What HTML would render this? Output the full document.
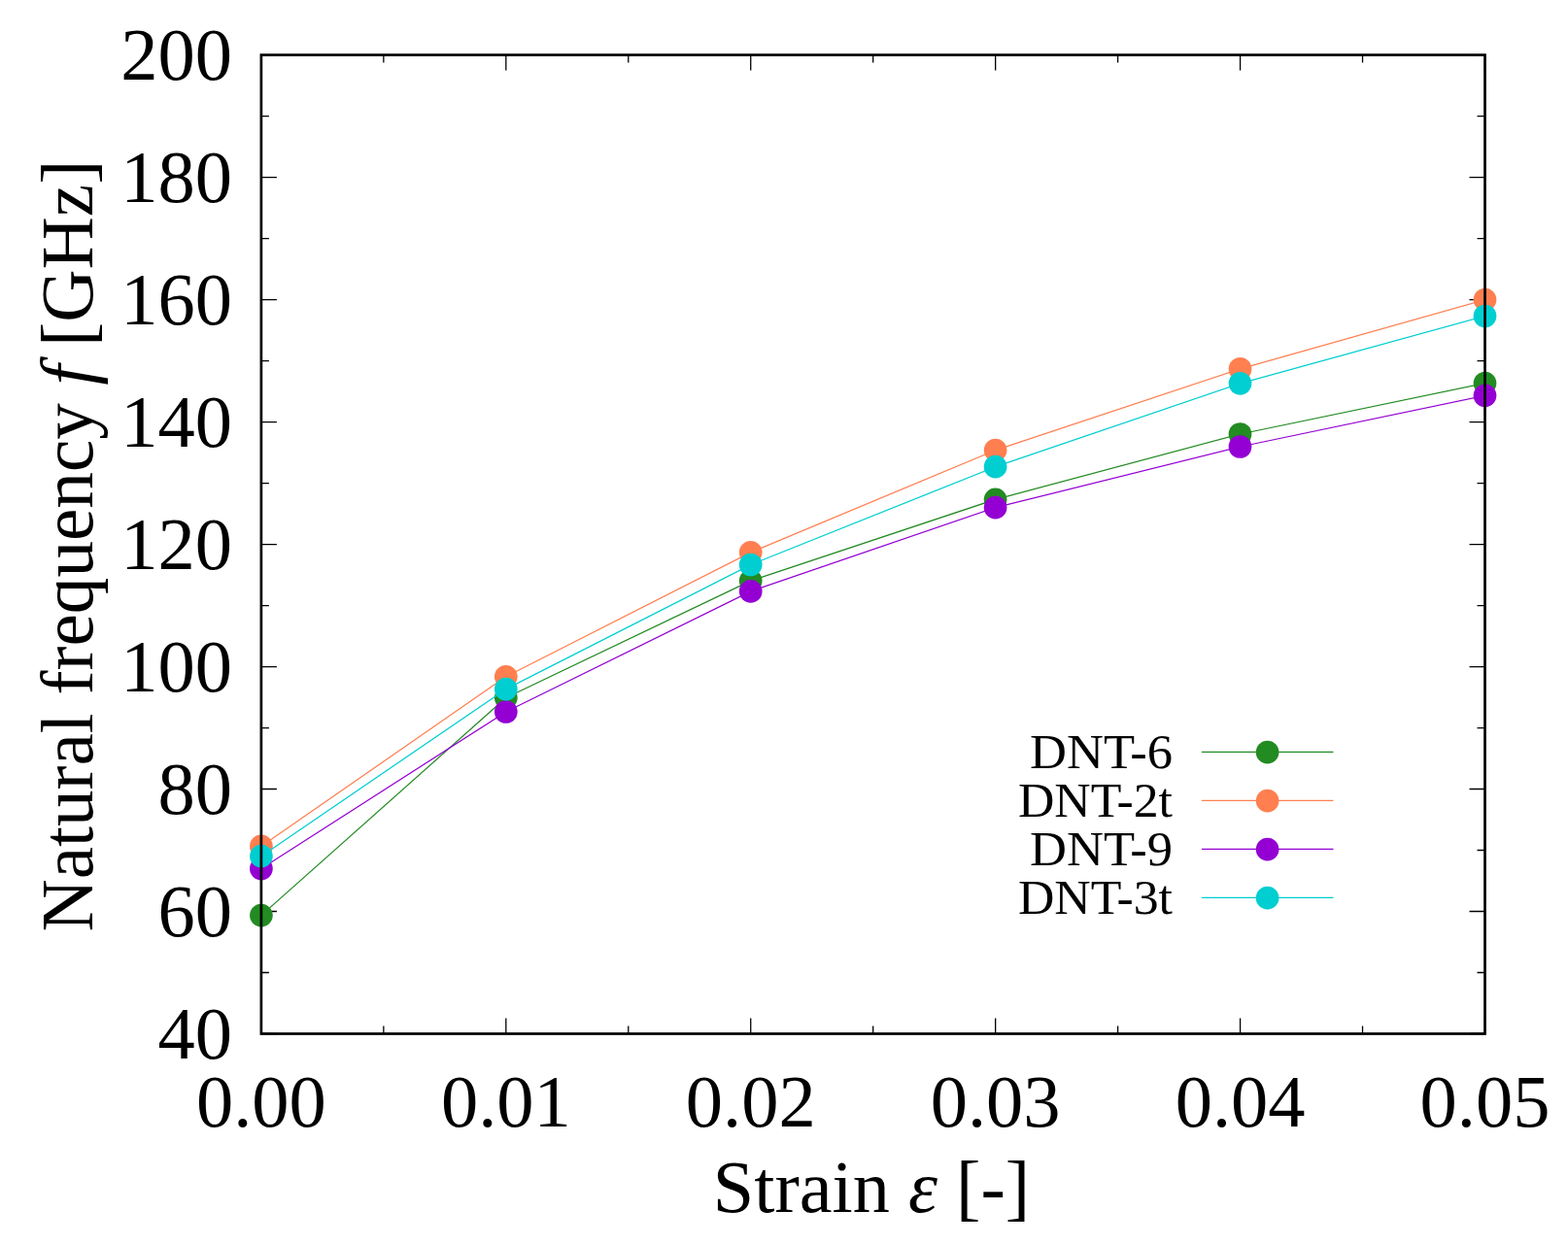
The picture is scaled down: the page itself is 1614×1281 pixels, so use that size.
<!DOCTYPE html><html><head><meta charset="utf-8"><title>Natural frequency vs strain</title><style>html,body{margin:0;padding:0;background:#fff;width:1614px;height:1281px;overflow:hidden}svg{display:block}text{font-family:"Liberation Serif","Times New Roman",serif;fill:#000}</style></head><body>
<svg width="1614" height="1281" viewBox="0 0 1614 1281">
<rect width="1614" height="1281" fill="#fff"/>
<path d="M268.9 1064.5H284.9 M1528.5 1064.5H1512.5 M268.9 1001.51H276.9 M1528.5 1001.51H1520.5 M268.9 938.51H284.9 M1528.5 938.51H1512.5 M268.9 875.52H276.9 M1528.5 875.52H1520.5 M268.9 812.52H284.9 M1528.5 812.52H1512.5 M268.9 749.53H276.9 M1528.5 749.53H1520.5 M268.9 686.54H284.9 M1528.5 686.54H1512.5 M268.9 623.54H276.9 M1528.5 623.54H1520.5 M268.9 560.55H284.9 M1528.5 560.55H1512.5 M268.9 497.56H276.9 M1528.5 497.56H1520.5 M268.9 434.56H284.9 M1528.5 434.56H1512.5 M268.9 371.57H276.9 M1528.5 371.57H1520.5 M268.9 308.58H284.9 M1528.5 308.58H1512.5 M268.9 245.58H276.9 M1528.5 245.58H1520.5 M268.9 182.59H284.9 M1528.5 182.59H1512.5 M268.9 119.59H276.9 M1528.5 119.59H1520.5 M268.9 56.6H284.9 M1528.5 56.6H1512.5 M268.9 1064.5V1048.5 M268.9 56.6V72.6 M394.86 1064.5V1056.5 M394.86 56.6V64.6 M520.82 1064.5V1048.5 M520.82 56.6V72.6 M646.78 1064.5V1056.5 M646.78 56.6V64.6 M772.74 1064.5V1048.5 M772.74 56.6V72.6 M898.7 1064.5V1056.5 M898.7 56.6V64.6 M1024.66 1064.5V1048.5 M1024.66 56.6V72.6 M1150.62 1064.5V1056.5 M1150.62 56.6V64.6 M1276.58 1064.5V1048.5 M1276.58 56.6V72.6 M1402.54 1064.5V1056.5 M1402.54 56.6V64.6 M1528.5 1064.5V1048.5 M1528.5 56.6V72.6" stroke="#000" stroke-width="1.3" fill="none"/>
<polyline points="268.9,942.6 520.8,718.5 772.7,598.1 1024.6,514.3 1276.5,447 1528.5,394.6" fill="none" stroke="#228b22" stroke-width="1.25" stroke-linejoin="round"/>
<circle cx="268.9" cy="942.6" r="11.85" fill="#228b22"/>
<circle cx="520.8" cy="718.5" r="11.85" fill="#228b22"/>
<circle cx="772.7" cy="598.1" r="11.85" fill="#228b22"/>
<circle cx="1024.6" cy="514.3" r="11.85" fill="#228b22"/>
<circle cx="1276.5" cy="447" r="11.85" fill="#228b22"/>
<circle cx="1528.5" cy="394.6" r="11.85" fill="#228b22"/>
<polyline points="268.9,871.4 520.8,696.8 772.7,568.8 1024.6,463.6 1276.5,379.9 1528.5,308.6" fill="none" stroke="#ff7f50" stroke-width="1.25" stroke-linejoin="round"/>
<circle cx="268.9" cy="871.4" r="11.85" fill="#ff7f50"/>
<circle cx="520.8" cy="696.8" r="11.85" fill="#ff7f50"/>
<circle cx="772.7" cy="568.8" r="11.85" fill="#ff7f50"/>
<circle cx="1024.6" cy="463.6" r="11.85" fill="#ff7f50"/>
<circle cx="1276.5" cy="379.9" r="11.85" fill="#ff7f50"/>
<circle cx="1528.5" cy="308.6" r="11.85" fill="#ff7f50"/>
<polyline points="268.9,894.5 520.8,733 772.7,608.9 1024.6,522.7 1276.5,460 1528.5,407.3" fill="none" stroke="#9400d3" stroke-width="1.25" stroke-linejoin="round"/>
<circle cx="268.9" cy="894.5" r="11.85" fill="#9400d3"/>
<circle cx="520.8" cy="733" r="11.85" fill="#9400d3"/>
<circle cx="772.7" cy="608.9" r="11.85" fill="#9400d3"/>
<circle cx="1024.6" cy="522.7" r="11.85" fill="#9400d3"/>
<circle cx="1276.5" cy="460" r="11.85" fill="#9400d3"/>
<circle cx="1528.5" cy="407.3" r="11.85" fill="#9400d3"/>
<polyline points="268.9,881.7 520.8,709.6 772.7,581.5 1024.6,480.7 1276.5,394.8 1528.5,325.5" fill="none" stroke="#00ced1" stroke-width="1.25" stroke-linejoin="round"/>
<circle cx="268.9" cy="881.7" r="11.85" fill="#00ced1"/>
<circle cx="520.8" cy="709.6" r="11.85" fill="#00ced1"/>
<circle cx="772.7" cy="581.5" r="11.85" fill="#00ced1"/>
<circle cx="1024.6" cy="480.7" r="11.85" fill="#00ced1"/>
<circle cx="1276.5" cy="394.8" r="11.85" fill="#00ced1"/>
<circle cx="1528.5" cy="325.5" r="11.85" fill="#00ced1"/>
<rect x="268.9" y="56.6" width="1259.6" height="1007.9" fill="none" stroke="#000" stroke-width="2.7"/>
<text x="239" y="1064.5" font-size="76.5" text-anchor="end" dominant-baseline="central">40</text>
<text x="239" y="938.51" font-size="76.5" text-anchor="end" dominant-baseline="central">60</text>
<text x="239" y="812.52" font-size="76.5" text-anchor="end" dominant-baseline="central">80</text>
<text x="239" y="686.54" font-size="76.5" text-anchor="end" dominant-baseline="central">100</text>
<text x="239" y="560.55" font-size="76.5" text-anchor="end" dominant-baseline="central">120</text>
<text x="239" y="434.56" font-size="76.5" text-anchor="end" dominant-baseline="central">140</text>
<text x="239" y="308.58" font-size="76.5" text-anchor="end" dominant-baseline="central">160</text>
<text x="239" y="182.59" font-size="76.5" text-anchor="end" dominant-baseline="central">180</text>
<text x="239" y="56.6" font-size="76.5" text-anchor="end" dominant-baseline="central">200</text>
<text x="268.9" y="1160" font-size="76.5" text-anchor="middle">0.00</text>
<text x="520.82" y="1160" font-size="76.5" text-anchor="middle">0.01</text>
<text x="772.74" y="1160" font-size="76.5" text-anchor="middle">0.02</text>
<text x="1024.66" y="1160" font-size="76.5" text-anchor="middle">0.03</text>
<text x="1276.58" y="1160" font-size="76.5" text-anchor="middle">0.04</text>
<text x="1528.5" y="1160" font-size="76.5" text-anchor="middle">0.05</text>
<text transform="translate(94.8 562.2) rotate(-90)" font-size="76.5" text-anchor="middle" textLength="794.8" lengthAdjust="spacingAndGlyphs">Natural frequency <tspan font-style="italic">f</tspan> [GHz]</text>
<text x="897" y="1248" font-size="76.5" text-anchor="middle" textLength="326.3" lengthAdjust="spacingAndGlyphs">Strain <tspan font-style="italic">ε</tspan> [-]</text>
<text x="1207" y="774.3" font-size="50" text-anchor="end" dominant-baseline="central" textLength="146.9" lengthAdjust="spacingAndGlyphs">DNT-6</text>
<path d="M1236.9 774.3H1372.5" stroke="#228b22" stroke-width="1.25"/>
<circle cx="1304.6" cy="774.7" r="11.85" fill="#228b22"/>
<text x="1207" y="824.3" font-size="50" text-anchor="end" dominant-baseline="central" textLength="159.1" lengthAdjust="spacingAndGlyphs">DNT-2t</text>
<path d="M1236.9 824.3H1372.5" stroke="#ff7f50" stroke-width="1.25"/>
<circle cx="1304.6" cy="824.7" r="11.85" fill="#ff7f50"/>
<text x="1207" y="874.3" font-size="50" text-anchor="end" dominant-baseline="central" textLength="146.9" lengthAdjust="spacingAndGlyphs">DNT-9</text>
<path d="M1236.9 874.3H1372.5" stroke="#9400d3" stroke-width="1.25"/>
<circle cx="1304.6" cy="874.7" r="11.85" fill="#9400d3"/>
<text x="1207" y="924.3" font-size="50" text-anchor="end" dominant-baseline="central" textLength="159.1" lengthAdjust="spacingAndGlyphs">DNT-3t</text>
<path d="M1236.9 924.3H1372.5" stroke="#00ced1" stroke-width="1.25"/>
<circle cx="1304.6" cy="924.7" r="11.85" fill="#00ced1"/>
</svg></body></html>
